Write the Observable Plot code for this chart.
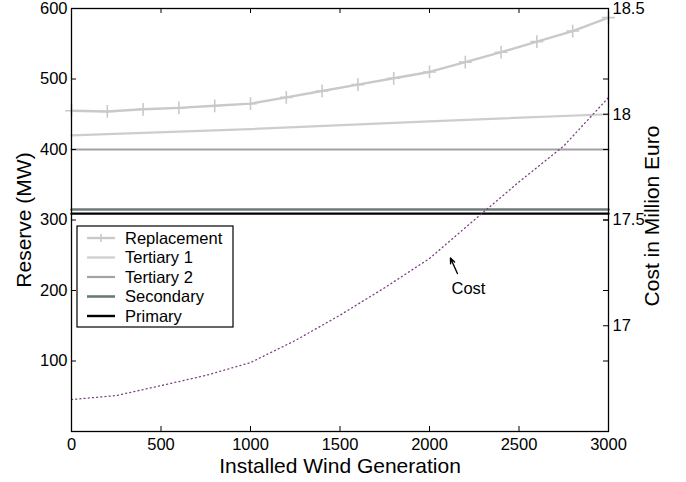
<!DOCTYPE html>
<html>
<head>
<meta charset="utf-8">
<script src="https://cdn.jsdelivr.net/npm/d3@7"></script>
<script src="https://cdn.jsdelivr.net/npm/@observablehq/plot@0.6"></script>
<style>
  html, body { margin: 0; padding: 0; background: #fff; }
  #chart { width: 686px; height: 482px; }
</style>
</head>
<body>
<div id="chart"></div>
<script>
// ---- data ----
const windGen = [0, 200, 400, 600, 800, 1000, 1200, 1400, 1600, 1800, 2000, 2200, 2400, 2600, 2800, 3000];
const replacement = [455, 454, 457, 459, 462, 465, 474, 483, 492, 501, 510, 524, 538, 553, 568, 587];
const tertiary1X = [0, 1000, 2000, 3000];
const tertiary1 = [420, 429, 440, 450];
const flatX = [0, 3000];
const tertiary2 = [400, 400];
const secondary = [315, 315];
const primary = [309, 309];
const costX = [0, 250, 500, 750, 1000, 1250, 1500, 1750, 2000, 2250, 2500, 2750, 3000];
const cost = [16.651, 16.67, 16.717, 16.765, 16.826, 16.93, 17.05, 17.18, 17.318, 17.5, 17.68, 17.85, 18.079];

const xTicks = [0, 500, 1000, 1500, 2000, 2500, 3000];
const yTicks = [0, 100, 200, 300, 400, 500, 600];
const yTickLabels = [100, 200, 300, 400, 500, 600];
const costDomain = [16.5, 18.5];
const costTicks = [16.5, 17, 17.5, 18, 18.5];
const costTickLabels = [17, 17.5, 18, 18.5];

const seriesNames = ["Replacement", "Tertiary 1", "Tertiary 2", "Secondary", "Primary"];
const seriesColors = ["#c9c9c9", "#cdcdcd", "#a2a2a2", "#6c7a7a", "#000000"];
const seriesWidths = [2.4, 2.2, 2.2, 2.6, 2.4];

const annotationText = [{x: 2123, y: 195.7, text: "Cost"}];
const annotationArrow = [{x1: 2156, y1: 224, x2: 2117, y2: 246}];

// ---- helpers ----
const yDomain = [0, 600];
const toLeft = c => (c - costDomain[0]) / (costDomain[1] - costDomain[0]) * (yDomain[1] - yDomain[0]) + yDomain[0];
const fromLeft = v => (v - yDomain[0]) / (yDomain[1] - yDomain[0]) * (costDomain[1] - costDomain[0]) + costDomain[0];

const W = 686, H = 482, mL = 71, mR = 78, mT = 8, mB = 51;
const pw = W - mL - mR, ph = H - mT - mB;

const repData = windGen.map((x, i) => ({x, y: replacement[i]}));
const t1Data = tertiary1X.map((x, i) => ({x, y: tertiary1[i]}));
const t2Data = flatX.map((x, i) => ({x, y: tertiary2[i]}));
const secData = flatX.map((x, i) => ({x, y: secondary[i]}));
const priData = flatX.map((x, i) => ({x, y: primary[i]}));
const costData = costX.map((x, i) => ({x, y: toLeft(cost[i])}));

const font = "'Liberation Sans', Arial, Helvetica, sans-serif";

const chart = Plot.plot({
  width: W, height: H,
  marginLeft: mL, marginRight: mR, marginTop: mT, marginBottom: mB,
  style: {fontFamily: font, fontSize: "16.5px", color: "#000", background: "#fff", overflow: "visible"},
  x: {domain: [0, 3000]},
  y: {domain: yDomain},
  marks: [
    // data
    Plot.line(t2Data, {x: "x", y: "y", stroke: seriesColors[2], strokeWidth: seriesWidths[2]}),
    Plot.line(t1Data, {x: "x", y: "y", stroke: seriesColors[1], strokeWidth: seriesWidths[1]}),
    Plot.line(repData, {x: "x", y: "y", stroke: seriesColors[0], strokeWidth: seriesWidths[0]}),
    Plot.dot(repData, {x: "x", y: "y", symbol: "plus", r: 4.2, stroke: seriesColors[0], strokeWidth: 1.6}),
    Plot.line(secData, {x: "x", y: "y", stroke: seriesColors[3], strokeWidth: seriesWidths[3]}),
    Plot.line(priData, {x: "x", y: "y", stroke: seriesColors[4], strokeWidth: seriesWidths[4]}),
    Plot.line(costData, {x: "x", y: "y", stroke: "#7a3f82", strokeWidth: 1.3, strokeDasharray: "1,3.2"}),
    // annotation
    Plot.arrow(annotationArrow, {x1: "x1", y1: "y1", x2: "x2", y2: "y2", stroke: "#000", strokeWidth: 1.4, headLength: 9, headAngle: 45}),
    Plot.text(annotationText, {x: "x", y: "y", text: "text", textAnchor: "start", lineAnchor: "bottom", fontSize: 16.5, fill: "#000"}),
    // frame
    Plot.frame({stroke: "#000", strokeWidth: 1.3}),
    // inward ticks
    Plot.tickX(xTicks, {x: d => d, insetTop: ph - 5, stroke: "#000", strokeWidth: 1}),
    Plot.tickX(xTicks, {x: d => d, insetBottom: ph - 5, stroke: "#000", strokeWidth: 1}),
    Plot.tickY(yTicks, {y: d => d, insetRight: pw - 5, stroke: "#000", strokeWidth: 1}),
    Plot.tickY(yTicks, {y: d => d, insetLeft: pw - 5, stroke: "#000", strokeWidth: 1}),
    Plot.tickY(costTicks.map(toLeft), {y: d => d, insetLeft: pw - 5, stroke: "#000", strokeWidth: 1}),
    // axes labels
    Plot.axisX(xTicks, {anchor: "bottom", tickSize: 0, tickPadding: 7, label: null, fontSize: 16.5, tickFormat: d => String(d)}),
    Plot.axisY(yTickLabels, {anchor: "left", tickSize: 0, tickPadding: 4, label: null, fontSize: 16.5, tickFormat: d => String(d)}),
    Plot.axisY(costTickLabels.map(toLeft), {anchor: "right", tickSize: 0, tickPadding: 4, label: null, fontSize: 16.5,
      tickFormat: d => String(+fromLeft(d).toFixed(2))}),
    // axis titles
    Plot.text(["Installed Wind Generation"], {frameAnchor: "bottom", dy: 35, textAnchor: "middle", lineAnchor: "middle", fontSize: 21, fill: "#000"}),
    Plot.text(["Reserve (MW)"], {frameAnchor: "left", dx: -47, rotate: -90, textAnchor: "middle", lineAnchor: "middle", fontSize: 21, fill: "#000"}),
    Plot.text(["Cost in Million Euro"], {frameAnchor: "right", dx: 44, dy: -4, rotate: -90, textAnchor: "middle", lineAnchor: "middle", fontSize: 21, fill: "#000"})
  ]
});

// legend inside the plot area
const svg = d3.select(chart);
const lg = svg.append("g").attr("font-family", font).attr("font-size", 16.5).attr("text-anchor", "start");
const box = {x: 77, y: 226, w: 156, h: 101};
lg.append("rect").attr("x", box.x).attr("y", box.y).attr("width", box.w).attr("height", box.h)
  .attr("fill", "#fff").attr("stroke", "#000").attr("stroke-width", 1.2);
seriesNames.forEach((name, i) => {
  const cy = box.y + 12 + i * 19.5;
  lg.append("line").attr("x1", box.x + 10).attr("x2", box.x + 38).attr("y1", cy).attr("y2", cy)
    .attr("stroke", seriesColors[i]).attr("stroke-width", seriesWidths[i]);
  if (i === 0) {
    const mx = box.x + 24;
    lg.append("path").attr("d", `M${mx - 4},${cy}H${mx + 4}M${mx},${cy - 4}V${cy + 4}`)
      .attr("stroke", seriesColors[0]).attr("stroke-width", 1.6).attr("fill", "none");
  }
  lg.append("text").attr("x", box.x + 48).attr("y", cy).attr("dy", "0.35em").attr("text-anchor", "start").attr("fill", "#000").text(name);
});

document.getElementById("chart").appendChild(chart);
</script>
</body>
</html>
